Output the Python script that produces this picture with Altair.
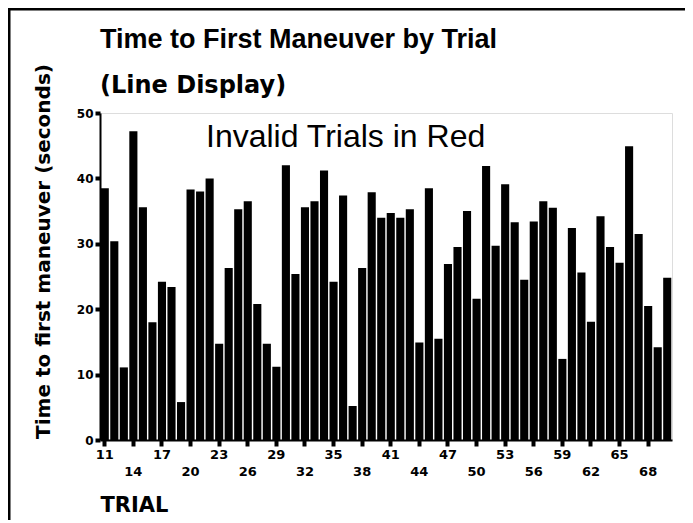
import altair as alt
import pandas as pd

trials = list(range(11, 71))
times = [38.5, 30.4, 11.1, 47.2, 35.6, 18.0, 24.2, 23.4, 5.8, 38.3,
         38.0, 40.0, 14.7, 26.3, 35.3, 36.5, 20.8, 14.7, 11.2, 42.0,
         25.4, 35.6, 36.5, 41.2, 24.2, 37.4, 5.2, 26.3, 37.9, 34.0,
         34.7, 34.0, 35.3, 14.9, 38.5, 15.5, 26.9, 29.5, 35.0, 21.6,
         41.9, 29.7, 39.1, 33.3, 24.5, 33.4, 36.5, 35.5, 12.4, 32.4,
         25.6, 18.1, 34.2, 29.5, 27.1, 44.9, 31.5, 20.5, 14.2, 24.8]
x_ticks = list(range(11, 69, 3))
y_ticks = [0, 10, 20, 30, 40, 50]
title_text = "Time to First Maneuver by Trial"
subtitle_text = "(Line Display)"
note_text = "Invalid Trials in Red"

df = pd.DataFrame({"trial": trials, "time": times})

BOLD = "DejaVu Sans"

bars = alt.Chart(df).mark_bar(color="black").encode(
    x=alt.X("trial:O",
            scale=alt.Scale(paddingInner=0.15, paddingOuter=0.075),
            axis=alt.Axis(
                values=x_ticks, labelAngle=0,
                title="TRIAL", titleFont=BOLD, titleFontSize=21, titleFontWeight="bold",
                titleAnchor="start", titleAlign="left", titleX=0, titleY=71,
                titleBaseline="alphabetic", titleColor="black",
                labelFont=BOLD, labelFontSize=13, labelFontWeight="bold", labelColor="black",
                labelPadding={"condition": {"test": "(datum.value - 11) % 6 == 3", "value": 19}, "value": 2},
                labelOverlap=False, labelBaseline="top",
                tickSize=6, tickWidth=4, tickColor="black",
                domainColor="black", domainWidth=2,
            )),
    y=alt.Y("time:Q",
            scale=alt.Scale(domain=[0, 50], nice=False),
            axis=alt.Axis(
                values=y_ticks,
                title="Time to first maneuver (seconds)", titleFont=BOLD, titleFontSize=20,
                titleFontWeight="bold", titleColor="black", titleX=-57, titleY=138,
                titleBaseline="middle", titleAngle=270,
                labelFont=BOLD, labelFontSize=12, labelFontWeight="bold", labelColor="black",
                labelPadding=2, tickSize=5, tickWidth=4, tickColor="black",
                domainColor="black", domainWidth=2, grid=False,
            )),
)

def text_layer(txt, x, y, font, size, weight):
    return alt.Chart(pd.DataFrame({"t": [txt]})).mark_text(
        align="left", baseline="alphabetic", font=font, fontSize=size,
        fontWeight=weight, color="black"
    ).encode(x=alt.value(x), y=alt.value(y), text="t:N")

note = text_layer(note_text, 106, 34, "Liberation Sans", 32, "normal")
title = text_layer(title_text, 0, -65, "Liberation Sans", 27, "bold")
subtitle = text_layer(subtitle_text, 0, -20, BOLD, 24, "bold")

frame_left = alt.Chart(pd.DataFrame({"a": [0]})).mark_rule(color="black", strokeWidth=3).encode(
    x=alt.value(-91), y=alt.value(-104), y2=alt.value(430))
frame_top = alt.Chart(pd.DataFrame({"a": [0]})).mark_rule(color="black", strokeWidth=3).encode(
    x=alt.value(-92), x2=alt.value(700), y=alt.value(-104))

chart = alt.layer(bars, note, title, subtitle, frame_left, frame_top).properties(
    width=572, height=327,
    autosize=alt.AutoSizeParams(type="none"),
    padding={"left": 92, "top": 105, "right": 13, "bottom": 80},
).configure_view(stroke="black", strokeWidth=2).configure(background="white")

chart.save("out.html", embed_options={"renderer": "svg", "actions": False})
